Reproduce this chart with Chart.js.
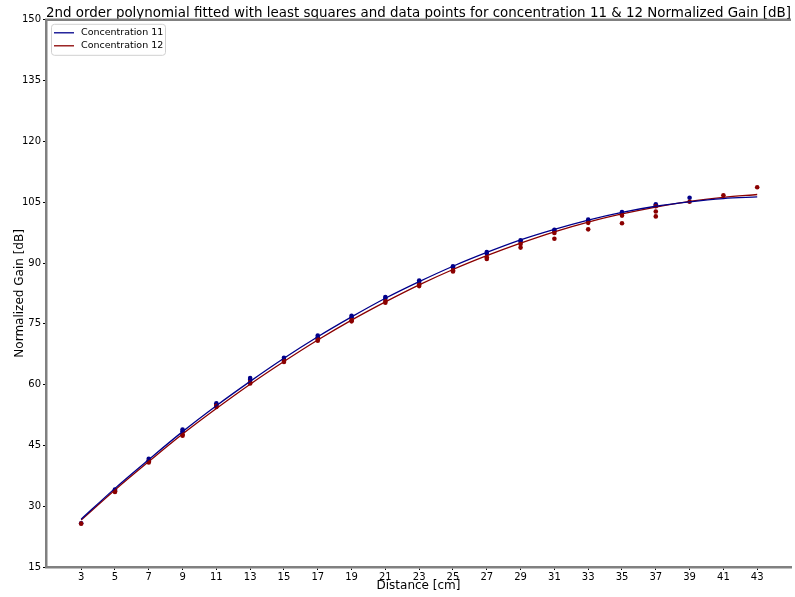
<!DOCTYPE html>
<html>
<head>
<meta charset="utf-8">
<script src="https://cdn.jsdelivr.net/npm/chart.js@4.4.0/dist/chart.umd.min.js"></script>
<style>
html, body { margin: 0; padding: 0; background: #fff; }
#wrap { position: relative; width: 795px; height: 597px; }
</style>
</head>
<body>
<div id="wrap"><canvas id="lineChart"></canvas></div>
<script>
// distances used for the fitted curves and x ticks
var distances = [3, 5, 7, 9, 11, 13, 15, 17, 19, 21, 23, 25, 27, 29, 31, 33, 35, 37, 39, 41, 43];
var yTicks = [15, 30, 45, 60, 75, 90, 105, 120, 135, 150];

// fitted 2nd order curves
var fit11 = [26.8, 34.4, 41.5, 48.4, 54.8, 60.8, 66.5, 71.8, 76.7, 81.3, 85.4, 89.2, 92.6, 95.7, 98.3, 100.6, 102.5, 104.0, 105.1, 105.9, 106.3];
var fit12 = [26.6, 34.0, 41.0, 47.8, 54.1, 60.1, 65.7, 71.0, 75.9, 80.4, 84.6, 88.4, 91.8, 94.9, 97.7, 100.1, 102.1, 103.8, 105.2, 106.2, 106.9];

// measured points, concentration 11
var pointsX11 = [3, 5, 5, 7, 7, 9, 9, 11, 11, 13, 13, 15, 15, 17, 17, 19, 19, 21, 21, 23, 23, 25, 25, 27, 27, 29, 29, 31, 31, 33, 33, 35, 35, 37, 37, 39];
var pointsY11 = [25.8, 34.1, 33.9, 41.7, 41.3, 48.9, 48.5, 55.4, 55.0, 61.6, 61.2, 66.6, 66.2, 72.1, 71.7, 77.0, 76.6, 81.6, 81.2, 85.7, 85.3, 89.2, 88.9, 92.7, 92.3, 95.6, 95.2, 98.2, 97.9, 100.7, 100.4, 102.6, 102.3, 104.5, 104.1, 106.1];

// measured points, concentration 12
var pointsX12 = [3, 5, 5, 7, 7, 9, 9, 11, 11, 13, 13, 15, 15, 17, 17, 19, 19, 21, 21, 23, 23, 25, 25, 27, 27, 29, 29, 31, 31, 33, 33, 35, 35, 37, 37, 37, 39, 41, 43];
var pointsY12 = [25.7, 33.7, 33.5, 41.1, 40.8, 47.7, 47.4, 54.8, 54.5, 60.6, 60.3, 65.9, 65.6, 71.2, 70.8, 75.9, 75.6, 80.6, 80.2, 84.7, 84.3, 88.2, 87.9, 91.4, 91.0, 94.7, 93.8, 97.4, 96.0, 99.9, 98.3, 101.7, 99.8, 104.0, 102.7, 101.5, 105.1, 106.7, 108.7];

function pairs(xs, ys) {
    return xs.map(function (x, i) { return { x: x, y: ys[i] }; });
}

Chart.defaults.font.family = "'DejaVu Sans', sans-serif";
Chart.defaults.color = '#000';

// top spine + legend box in the upper left corner
var extras = {
    id: 'extras',
    afterDraw: function (chart) {
        var c = chart.ctx, a = chart.chartArea;
        c.save();
        c.strokeStyle = '#808080';
        c.lineWidth = 2.5;
        c.beginPath();
        c.moveTo(a.left - 1, a.top);
        c.lineTo(a.right, a.top);
        c.stroke();

        var x0 = a.left + 5, y0 = a.top + 4;
        c.fillStyle = 'rgba(255,255,255,0.8)';
        c.strokeStyle = '#d0d0d0';
        c.lineWidth = 1;
        c.beginPath();
        c.roundRect(x0 + 0.5, y0 + 0.5, 114, 31, 3);
        c.fill();
        c.stroke();

        var items = chart.data.datasets.slice(0, 2);
        c.font = "9.5px 'DejaVu Sans', sans-serif";
        c.textBaseline = 'middle';
        items.forEach(function (ds, i) {
            var yy = y0 + 9 + i * 13;
            c.strokeStyle = ds.borderColor;
            c.lineWidth = 1.3;
            c.beginPath();
            c.moveTo(x0 + 3, yy);
            c.lineTo(x0 + 23, yy);
            c.stroke();
            c.fillStyle = '#000';
            c.fillText(ds.label, x0 + 30, yy);
        });
        c.restore();
    }
};

var ctx = document.getElementById('lineChart').getContext('2d');

var chartData = {
    datasets: [{
        type: 'line',
        label: 'Concentration 11',
        data: pairs(distances, fit11),
        borderColor: 'darkblue',
        backgroundColor: 'darkblue',
        borderWidth: 1.3,
        pointRadius: 0,
        cubicInterpolationMode: 'monotone',
        fill: false
    }, {
        type: 'line',
        label: 'Concentration 12',
        data: pairs(distances, fit12),
        borderColor: 'darkred',
        backgroundColor: 'darkred',
        borderWidth: 1.3,
        pointRadius: 0,
        cubicInterpolationMode: 'monotone',
        fill: false
    }, {
        label: 'points 12',
        data: pairs(pointsX12, pointsY12),
        showLine: false,
        pointRadius: 2.3,
        pointBorderWidth: 0,
        pointBackgroundColor: 'darkred'
    }, {
        label: 'points 11',
        data: pairs(pointsX11, pointsY11),
        showLine: false,
        pointRadius: 2.3,
        pointBorderWidth: 0,
        pointBackgroundColor: 'darkblue'
    }]
};

var axisGrid = { drawOnChartArea: false, drawTicks: true, tickLength: 3, tickColor: '#000' };
var axisBorder = { color: '#808080', width: 2.5 };

var chartOptions = {
    responsive: true,
    maintainAspectRatio: false,
    animation: false,
    layout: { padding: 0 },
    plugins: {
        title: {
            display: true,
            fullSize: false,
            text: '2nd order polynomial fitted with least squares and data points for concentration 11 & 12 Normalized Gain [dB]',
            font: { size: 14, weight: 'normal' },
            color: '#000',
            padding: { top: 5, bottom: -2 }
        },
        legend: { display: false },
        tooltip: { enabled: false }
    },
    scales: {
        x: {
            type: 'linear',
            min: 0.92,
            max: 45,
            afterBuildTicks: function (s) { s.ticks = distances.map(function (v) { return { value: v }; }); },
            afterFit: function (s) { s.height = 30; },
            grid: axisGrid,
            border: axisBorder,
            ticks: { font: { size: 10 }, padding: 1, maxRotation: 0, autoSkip: false },
            title: { display: true, text: 'Distance [cm]', font: { size: 12 }, padding: { top: 0, bottom: 4 } }
        },
        y: {
            min: 15,
            max: 150,
            afterBuildTicks: function (s) { s.ticks = yTicks.map(function (v) { return { value: v }; }); },
            afterFit: function (s) { s.width = 46; },
            grid: axisGrid,
            border: axisBorder,
            ticks: { font: { size: 10 }, padding: 2 },
            title: { display: true, text: 'Normalized Gain [dB]', font: { size: 12 }, padding: { top: 13, bottom: 0 } }
        }
    }
};

var lineChart = new Chart(ctx, {
    type: 'scatter',
    data: chartData,
    options: chartOptions,
    plugins: [extras]
});
</script>
</body>
</html>
